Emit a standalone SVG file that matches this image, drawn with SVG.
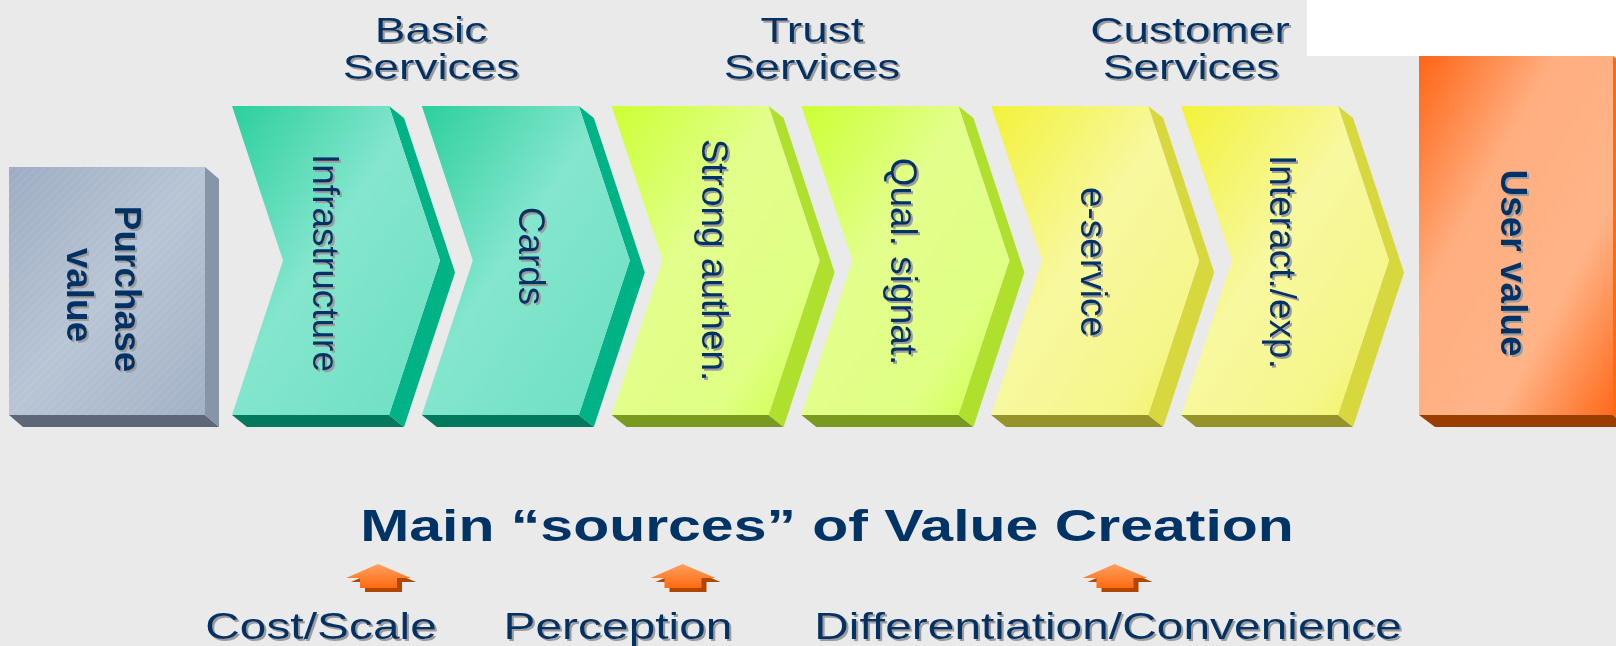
<svg xmlns="http://www.w3.org/2000/svg" width="1616" height="646" viewBox="0 0 1616 646">
<defs>
<style>
.t{font-family:"Liberation Sans",Arial,sans-serif;fill:#003366}
.v{font-size:37px}
.b{font-weight:bold}
.h{font-size:35px}
.lab{font-size:37px}
.ttl{font-size:45px;font-weight:bold}
.tealS{fill:#00B386}.tealB{fill:#007A5A}.tealF{fill:url(#gTeal)}
.limeS{fill:#B0E02E}.limeB{fill:#7A9A1F}.limeF{fill:url(#gLime)}
.yelS{fill:#D6D83E}.yelB{fill:#95932A}.yelF{fill:url(#gYel)}
.arrD{fill:#B04700}.arrF{fill:url(#gArr)}
</style>
<linearGradient id="gTeal" x1="0" y1="0" x2="1" y2="1">
<stop offset="0" stop-color="#2CCF9D"/><stop offset="0.45" stop-color="#84E6CD"/><stop offset="1" stop-color="#6CDFC1"/>
</linearGradient>
<linearGradient id="gLime" x1="0" y1="0" x2="1" y2="1">
<stop offset="0" stop-color="#CCFF33"/><stop offset="0.4" stop-color="#E2FF8C"/><stop offset="0.75" stop-color="#E0FF84"/><stop offset="1" stop-color="#CCFF3C"/>
</linearGradient>
<linearGradient id="gYel" x1="0" y1="0" x2="1" y2="1">
<stop offset="0" stop-color="#F2F23A"/><stop offset="0.45" stop-color="#F8F8A0"/><stop offset="0.8" stop-color="#F5F68A"/><stop offset="1" stop-color="#F0F250"/>
</linearGradient>
<linearGradient id="gPur" x1="0" y1="0" x2="1" y2="1">
<stop offset="0" stop-color="#9EADC2"/><stop offset="0.5" stop-color="#B8C5D5"/><stop offset="1" stop-color="#A3B1C5"/>
</linearGradient>
<linearGradient id="gOr" x1="0" y1="0" x2="1" y2="1">
<stop offset="0" stop-color="#FF6414"/><stop offset="0.35" stop-color="#FFAE80"/><stop offset="0.7" stop-color="#FFB488"/><stop offset="1" stop-color="#FF6A1A"/>
</linearGradient>
<linearGradient id="gArr" x1="0" y1="0" x2="0" y2="1">
<stop offset="0" stop-color="#FFA060"/><stop offset="1" stop-color="#FF6A10"/>
</linearGradient>
<pattern id="hatch" width="6" height="6" patternUnits="userSpaceOnUse" patternTransform="rotate(45)">
<line x1="0" y1="0" x2="0" y2="6" stroke="#FFFFFF" stroke-width="1" stroke-opacity="0.18"/>
</pattern>
<filter id="sh" x="-10%" y="-10%" width="130%" height="130%">
<feFlood flood-color="#9C9C9C"/>
<feComposite in2="SourceAlpha" operator="in"/>
<feOffset dx="2" dy="2" result="s"/>
<feMerge><feMergeNode in="s"/><feMergeNode in="SourceGraphic"/></feMerge>
</filter>
<polygon id="arrow" points="0,0 33,14 19,14 19,24 -18,24 -18,14 -32,14"/>
</defs>

<rect x="0" y="0" width="1616" height="646" fill="#EAEAEA"/>
<rect x="1307" y="0" width="309" height="56" fill="#FFFFFF"/>

<g id="headers" filter="url(#sh)">
<text class="t h" text-anchor="middle" transform="translate(431,42) scale(1.315,1)">Basic</text>
<text class="t h" text-anchor="middle" transform="translate(431,79) scale(1.315,1)">Services</text>
<text class="t h" text-anchor="middle" transform="translate(812,42) scale(1.315,1)">Trust</text>
<text class="t h" text-anchor="middle" transform="translate(812,79) scale(1.315,1)">Services</text>
<text class="t h" text-anchor="middle" transform="translate(1190,42) scale(1.315,1)">Customer</text>
<text class="t h" text-anchor="middle" transform="translate(1191,79) scale(1.315,1)">Services</text>
</g>

<g id="purchase-value">
<polygon points="9,415 205,415 219,427 23,427" fill="#5D6777"/>
<polygon points="205,167 219,179 219,427 205,415" fill="#8695A8"/>
<rect x="9" y="167" width="196" height="248" fill="url(#gPur)"/>
<rect x="9" y="167" width="196" height="248" fill="url(#hatch)"/>
<g filter="url(#sh)">
<text class="t v b" text-anchor="middle" transform="translate(115,289) rotate(90)">Purchase</text>
<text class="t v b" text-anchor="middle" transform="translate(67,295) rotate(90)">value</text>
</g>
</g>

<g id="infrastructure" transform="translate(232,0)">
<polygon class="tealB" points="0,415 157,415 172,427 15,427"/>
<polygon class="tealS" points="157,106 172,118 223,272.5 172,427 157,415 208,260.5"/>
<polygon class="tealF" points="0,106 157,106 208,260.5 157,415 0,415 51,260.5"/>
<g filter="url(#sh)"><text class="t v" text-anchor="middle" transform="translate(81,263) rotate(90)">Infrastructure</text></g>
</g>

<g id="cards" transform="translate(421.8,0)">
<polygon class="tealB" points="0,415 157,415 172,427 15,427"/>
<polygon class="tealS" points="157,106 172,118 223,272.5 172,427 157,415 208,260.5"/>
<polygon class="tealF" points="0,106 157,106 208,260.5 157,415 0,415 51,260.5"/>
<g filter="url(#sh)"><text class="t v" text-anchor="middle" transform="translate(97,256) rotate(90)">Cards</text></g>
</g>

<g id="strong-authen" transform="translate(611.6,0)">
<polygon class="limeB" points="0,415 157,415 172,427 15,427"/>
<polygon class="limeS" points="157,106 172,118 223,272.5 172,427 157,415 208,260.5"/>
<polygon class="limeF" points="0,106 157,106 208,260.5 157,415 0,415 51,260.5"/>
<g filter="url(#sh)"><text class="t v" text-anchor="middle" transform="translate(90,260) rotate(90)">Strong authen.</text></g>
</g>

<g id="qual-signat" transform="translate(801.4,0)">
<polygon class="limeB" points="0,415 157,415 172,427 15,427"/>
<polygon class="limeS" points="157,106 172,118 223,272.5 172,427 157,415 208,260.5"/>
<polygon class="limeF" points="0,106 157,106 208,260.5 157,415 0,415 51,260.5"/>
<g filter="url(#sh)"><text class="t v" text-anchor="middle" transform="translate(89.5,261.5) rotate(90)">Qual. signat.</text></g>
</g>

<g id="e-service" transform="translate(991.2,0)">
<polygon class="yelB" points="0,415 157,415 172,427 15,427"/>
<polygon class="yelS" points="157,106 172,118 223,272.5 172,427 157,415 208,260.5"/>
<polygon class="yelF" points="0,106 157,106 208,260.5 157,415 0,415 51,260.5"/>
<g filter="url(#sh)"><text class="t v" text-anchor="middle" transform="translate(89.5,262) rotate(90)">e-service</text></g>
</g>

<g id="interact-exp" transform="translate(1181,0)">
<polygon class="yelB" points="0,415 157,415 172,427 15,427"/>
<polygon class="yelS" points="157,106 172,118 223,272.5 172,427 157,415 208,260.5"/>
<polygon class="yelF" points="0,106 157,106 208,260.5 157,415 0,415 51,260.5"/>
<g filter="url(#sh)"><text class="t v" text-anchor="middle" transform="translate(89,262) rotate(90)">Interact./exp.</text></g>
</g>

<g id="user-value">
<polygon points="1419,415 1613,415 1628,427 1435,427" fill="#993D00"/>
<polygon points="1613,56 1628,68 1628,427 1613,415" fill="#FF6A10"/>
<rect x="1419" y="56" width="194" height="359" fill="url(#gOr)"/>
<g filter="url(#sh)"><text class="t v b" text-anchor="middle" transform="translate(1500.5,263) rotate(90)">User value</text></g>
</g>

<g id="title">
<text class="t ttl" text-anchor="middle" transform="translate(827,541) scale(1.31,1)">Main “sources” of Value Creation</text>
</g>

<g id="connectors">
<use href="#arrow" class="arrD" transform="translate(383,568)"/>
<use href="#arrow" class="arrF" transform="translate(378,564)"/>
<use href="#arrow" class="arrD" transform="translate(687.5,568)"/>
<use href="#arrow" class="arrF" transform="translate(682.5,564)"/>
<use href="#arrow" class="arrD" transform="translate(1119.5,568)"/>
<use href="#arrow" class="arrF" transform="translate(1114.5,564)"/>
</g>

<g id="cost-scale" filter="url(#sh)">
<text class="t lab" text-anchor="middle" transform="translate(321,639) scale(1.295,1)">Cost/Scale</text>
</g>
<g id="perception" filter="url(#sh)">
<text class="t lab" text-anchor="middle" transform="translate(618,639) scale(1.295,1)">Perception</text>
</g>
<g id="differentiation-convenience" filter="url(#sh)">
<text class="t lab" text-anchor="middle" transform="translate(1108,639) scale(1.295,1)">Differentiation/Convenience</text>
</g>
</svg>
